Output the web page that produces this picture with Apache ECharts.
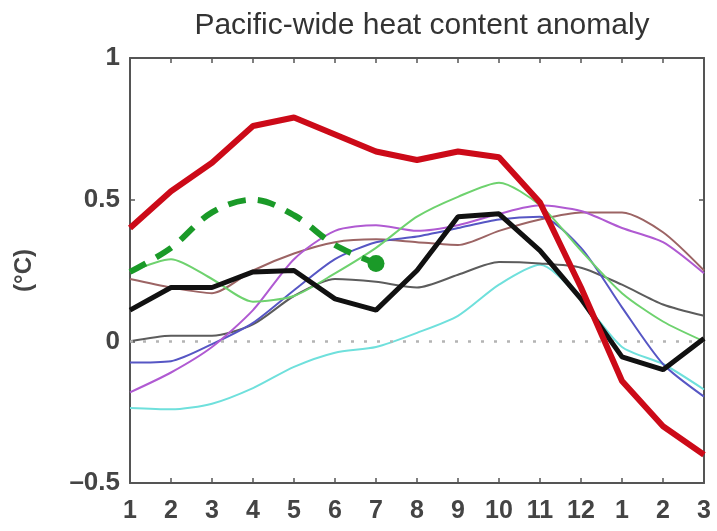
<!DOCTYPE html>
<html>
<head>
<meta charset="utf-8">
<script src="https://cdn.jsdelivr.net/npm/echarts@6/dist/echarts.min.js"></script>
<style>html,body{margin:0;padding:0;background:#fff;}#c{width:717px;height:531px;}</style>
</head>
<body>
<div id="c"></div>
<script>
var categories = ['1','2','3','4','5','6','7','8','9','10','11','12','1','2','3'];
var yTickLabels = {'-0.5':'\u20130.5','0':'0','0.5':'0.5','1':'1'};
var redThick   = [0.40,0.53,0.63,0.76,0.79,0.73,0.67,0.64,0.67,0.65,0.49,0.19,-0.14,-0.30,-0.40];
var blackThick = [0.11,0.19,0.19,0.245,0.25,0.15,0.11,0.25,0.44,0.45,0.32,0.15,-0.055,-0.10,0.01];
var greenDashed = [0.245,0.33,0.455,0.50,0.445,0.34,0.275,null,null,null,null,null,null,null,null];
var greenDotIndex = 6;
var lightGreen = [0.245,0.29,0.22,0.14,0.16,0.24,0.33,0.44,0.51,0.56,0.48,0.32,0.17,0.07,0.0];
var purple = [-0.18,-0.11,-0.02,0.11,0.29,0.39,0.41,0.39,0.41,0.45,0.48,0.46,0.40,0.35,0.24];
var blue   = [-0.075,-0.07,-0.01,0.065,0.18,0.29,0.35,0.37,0.40,0.43,0.44,0.33,0.12,-0.08,-0.195];
var brown  = [0.22,0.19,0.17,0.25,0.31,0.35,0.36,0.35,0.34,0.39,0.43,0.455,0.455,0.385,0.25];
var gray   = [0.0,0.02,0.02,0.06,0.16,0.22,0.21,0.19,0.235,0.28,0.275,0.26,0.20,0.13,0.09];
var cyan   = [-0.235,-0.24,-0.22,-0.165,-0.09,-0.04,-0.02,0.03,0.09,0.20,0.27,0.15,-0.02,-0.08,-0.17];

var FONT = '"Liberation Sans", Arial, sans-serif';
var chart = echarts.init(document.getElementById('c'), null, {renderer:'canvas'});

function thin(name, data, color, extra){
  var s = {name:name, type:'line', data:data, symbol:'none', smooth:0.25,
    lineStyle:{color:color, width:2}, z:2, silent:true, animation:false};
  if (extra) for (var k in extra) s[k]=extra[k];
  return s;
}
var axisLineStyle = {color:'#555', width:2};
var tickStyle = {inside:true, length:5, lineStyle:{color:'#555', width:1.5}};

var option = {
  animation:false,
  title:{text:'Pacific-wide heat content anomaly', left:417, textAlign:'center', top:6,
    textStyle:{fontFamily:FONT, fontSize:30, fontWeight:'normal', color:'#333'}},
  grid:{left:130, right:13, top:58, bottom:48, containLabel:false},
  xAxis:[
    {type:'category', data:categories, boundaryGap:false, position:'bottom',
     axisLine:{onZero:false, lineStyle:axisLineStyle}, axisTick:tickStyle,
     axisLabel:{fontFamily:FONT, fontSize:25, fontWeight:'bold', color:'#444', margin:16, interval:0},
     splitLine:{show:false}},
    {type:'category', data:categories, boundaryGap:false, position:'top',
     axisLine:{onZero:false, lineStyle:axisLineStyle}, axisTick:tickStyle,
     axisLabel:{show:false}, splitLine:{show:false}}
  ],
  yAxis:[
    {type:'value', min:-0.5, max:1, interval:0.5, position:'left',
     name:'(\u00b0C)', nameLocation:'middle', nameGap:94, nameRotate:90,
     nameTextStyle:{fontFamily:FONT, fontSize:24, fontWeight:'bold', color:'#444'},
     axisLine:{show:true, onZero:false, lineStyle:axisLineStyle}, axisTick:{show:true, inside:true, length:5, lineStyle:{color:'#555', width:1.5}},
     axisLabel:{fontFamily:FONT, fontSize:26, fontWeight:'bold', color:'#444', margin:10,
       formatter:function(v){ var k=String(v); return yTickLabels[k]!==undefined?yTickLabels[k]:k; }},
     splitLine:{show:false}},
    {type:'value', min:-0.5, max:1, interval:0.5, position:'right',
     axisLine:{show:true, onZero:false, lineStyle:axisLineStyle}, axisTick:{show:true, inside:true, length:5, lineStyle:{color:'#555', width:1.5}},
     axisLabel:{show:false}, splitLine:{show:false}}
  ],
  series:[
    thin('cyan', cyan, '#6fe0dc'),
    thin('gray', gray, '#5c5c5c', {markLine:{silent:true, symbol:'none', label:{show:false},
      lineStyle:{color:'#b4b4b4', type:[3,10], width:2.5}, data:[{yAxis:0}]}}),
    thin('brown', brown, '#9c6464'),
    thin('blue', blue, '#5656c4'),
    thin('purple', purple, '#b05ad2'),
    thin('lightgreen', lightGreen, '#6ed26e'),
    {name:'greenDashed', type:'line', data:greenDashed, symbol:'none', smooth:0.35, connectNulls:false,
     lineStyle:{color:'#1a9a28', width:6, type:[18,12]}, z:3, silent:true},
    {name:'greenDot', type:'scatter', data:[[greenDotIndex, greenDashed[greenDotIndex]]], symbol:'circle', symbolSize:17,
     itemStyle:{color:'#1a9a28', opacity:1}, z:4, silent:true},
    {name:'black', type:'line', data:blackThick, symbol:'none', lineStyle:{color:'#111', width:5}, z:5, silent:true},
    {name:'red', type:'line', data:redThick, symbol:'none', lineStyle:{color:'#cc0a18', width:6}, z:6, silent:true}
  ]
};
chart.setOption(option);
</script>
</body>
</html>
